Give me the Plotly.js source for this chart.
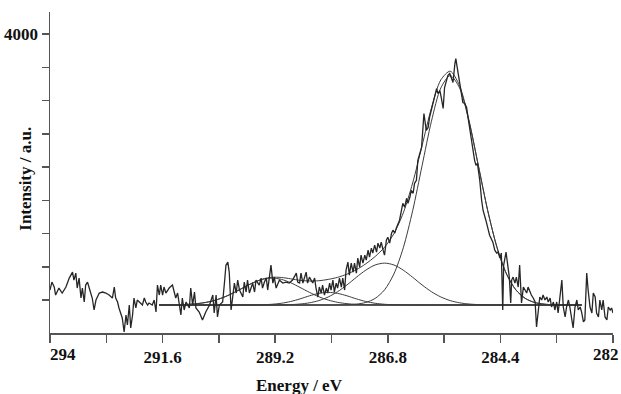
<!DOCTYPE html>
<html>
<head>
<meta charset="utf-8">
<script src="https://cdn.plot.ly/plotly-3.0.1.min.js"></script>
<style>
  html, body { margin: 0; padding: 0; background: #fff; }
  #chart { width: 621px; height: 394px; }
</style>
</head>
<body>
<div id="chart"></div>
<script>
// C 1s spectrum: measured counts
const DATA_E = [
  294.00, 293.96, 293.91, 293.88, 293.81, 293.74, 293.66, 293.59, 293.52, 293.49,
  293.45, 293.42, 293.38, 293.34, 293.31, 293.27, 293.24, 293.20, 293.17, 293.10,
  293.06, 293.02, 292.95, 292.88, 292.81, 292.74, 292.67, 292.63, 292.60, 292.56,
  292.53, 292.46, 292.42, 292.38, 292.35, 292.31, 292.28, 292.24, 292.21, 292.17,
  292.14, 292.10, 292.03, 291.99, 291.96, 291.92, 291.89, 291.82, 291.78, 291.74,
  291.71, 291.67, 291.64, 291.60, 291.57, 291.53, 291.46, 291.39, 291.32, 291.28,
  291.25, 291.21, 291.18, 291.14, 291.10, 291.03, 291.00, 290.96, 290.92, 290.89,
  290.82, 290.75, 290.68, 290.60, 290.53, 290.50, 290.46, 290.43, 290.39, 290.32,
  290.28, 290.25, 290.21, 290.18, 290.14, 290.11, 290.07, 290.03, 290.00, 289.96,
  289.89, 289.86, 289.82, 289.79, 289.75, 289.68, 289.64, 289.61, 289.54, 289.50,
  289.47, 289.43, 289.39, 289.36, 289.32, 289.29, 289.25, 289.22, 289.18, 289.11,
  289.04, 288.97, 288.90, 288.83, 288.75, 288.72, 288.68, 288.65, 288.61, 288.58,
  288.54, 288.51, 288.47, 288.40, 288.36, 288.33, 288.29, 288.26, 288.22, 288.19,
  288.15, 288.11, 288.08, 288.04, 288.01, 287.97, 287.94, 287.90, 287.87, 287.83,
  287.79, 287.76, 287.72, 287.69, 287.65, 287.62, 287.58, 287.54, 287.51, 287.47,
  287.44, 287.40, 287.37, 287.33, 287.29, 287.26, 287.22, 287.19, 287.15, 287.12,
  287.08, 287.04, 287.01, 286.97, 286.94, 286.90, 286.87, 286.83, 286.80, 286.76,
  286.72, 286.69, 286.65, 286.62, 286.55, 286.48, 286.44, 286.40, 286.37, 286.33,
  286.30, 286.26, 286.23, 286.19, 286.16, 286.08, 286.05, 286.03, 285.98, 285.94,
  285.91, 285.87, 285.84, 285.80, 285.76, 285.73, 285.69, 285.66, 285.62, 285.59,
  285.55, 285.52, 285.48, 285.44, 285.41, 285.37, 285.35, 285.32, 285.27, 285.23,
  285.20, 285.16, 285.12, 285.09, 285.05, 285.02, 284.98, 284.95, 284.92, 284.89,
  284.86, 284.84, 284.80, 284.77, 284.71, 284.66, 284.63, 284.56, 284.52, 284.48,
  284.45, 284.41, 284.38, 284.35, 284.33, 284.28, 284.26, 284.21, 284.18, 284.16,
  284.13, 284.09, 284.06, 284.02, 283.99, 283.95, 283.91, 283.88, 283.84, 283.81,
  283.77, 283.74, 283.70, 283.66, 283.63, 283.59, 283.56, 283.52, 283.49, 283.45,
  283.41, 283.38, 283.34, 283.31, 283.27, 283.24, 283.20, 283.17, 283.13, 283.09,
  283.06, 283.02, 282.99, 282.95, 282.92, 282.88, 282.85, 282.81, 282.77, 282.74,
  282.70, 282.67, 282.63, 282.60, 282.56, 282.53, 282.49, 282.45, 282.42, 282.38,
  282.35, 282.31, 282.28, 282.24, 282.21, 282.17, 282.13, 282.10, 282.06, 282.03,
  282.00
];
const DATA_I = [
  150, 270, 195, 75, 180, 105, 195, 330, 420, 300,
  405, 180, 330, 30, 180, -30, 225, 270, 195, 30,
  -150, 0, 105, 120, 105, 75, 30, 195, 30, -30,
  -120, -270, -480, -225, -375, -75, -420, -225, 30, -120,
  0, -30, -75, 30, -30, -75, -45, -75, 0, -180,
  225, 75, 225, 75, 195, 105, 180, 225, 30, 105,
  -45, -225, 30, -150, -30, -120, 180, -75, 120, -120,
  -180, -300, -180, -75, 75, -195, 75, -255, -75, -30,
  270, 525, 570, 420, -150, 45, 255, 105, 300, 150,
  45, 270, 120, 300, 105, 255, 120, 300, 225, 330,
  180, 270, 330, 150, 405, 525, 255, 345, 180, 300,
  255, 270, 255, 300, 405, 270, 255, 405, 255, 345,
  420, 255, 345, 255, 330, 180, 45, 195, 105, 225,
  75, 180, 105, 255, 150, 300, 120, 255, 180, 330,
  195, 330, 150, 450, 570, 375, 555, 420, 555, 405,
  630, 495, 675, 555, 675, 600, 750, 645, 780, 705,
  825, 720, 855, 780, 870, 750, 675, 900, 945, 855,
  1005, 1050, 1005, 1080, 1200, 1455, 1395, 1530, 1455, 1545,
  1650, 1605, 1755, 1800, 2100, 2295, 2550, 2805, 2550, 2595,
  2745, 2850, 2955, 3045, 3180, 3105, 3150, 3045, 2880, 3195,
  3300, 3375, 3405, 3330, 3270, 3555, 3630, 3495, 3255, 3105,
  2970, 2955, 2895, 2745, 2550, 2400, 2250, 2100, 2025, 2055,
  1905, 1800, 1500, 1350, 1200, 1080, 975, 870, 750, 705,
  720, 630, 705, -150, 525, 720, 600, 345, -45, 300,
  345, 255, 345, 195, 525, -45, 195, 150, 105, 195,
  120, 75, 30, -30, -405, -105, 45, 0, 75, 0,
  45, -30, 30, -105, -30, -150, -30, -195, 45, 300,
  -105, -255, -105, 0, -105, -300, -420, -105, 0, -150,
  -105, -180, -330, -300, 405, 150, -105, -195, 105, 45,
  -195, -255, 0, -150, 0, -255, -300, -105, -150, -120,
  -195
];

// Peak fit: energies of the fitted curves
const FIT_E = [
  291.67, 291.47, 291.27, 291.07, 290.87, 290.67, 290.47, 290.27, 290.07, 289.87,
  289.67, 289.47, 289.27, 289.07, 288.87, 288.67, 288.47, 288.27, 288.07, 287.87,
  287.67, 287.47, 287.27, 287.07, 286.87, 286.67, 286.47, 286.27, 286.07, 285.87,
  285.67, 285.47, 285.27, 285.07, 284.87, 284.67, 284.47, 284.27, 284.07, 283.87,
  283.67, 283.47, 283.27, 283.07, 282.87, 282.67
];
// C-C / C-H component (285.5 eV)
const PEAK_CC = [
  -75, -75, -75, -75, -75, -75, -75, -75, -75, -75,
  -75, -75, -75, -75, -75, -75, -75, -75, -75, -74,
  -71, -62, -37, 24, 152, 392, 785, 1343, 2018, 2688,
  3189, 3375, 3189, 2688, 2018, 1343, 785, 392, 152, 24,
  -37, -62, -71, -74, -75, -75
];
// C-O component (286.9 eV)
const PEAK_CO = [
  -75, -75, -75, -75, -75, -75, -75, -75, -75, -75,
  -75, -75, -74, -73, -69, -60, -42, -9, 46, 125,
  227, 342, 449, 527, 555, 527, 449, 342, 227, 125,
  46, -9, -42, -60, -69, -73, -74, -75, -75, -75,
  -75, -75, -75, -75, -75, -75
];
// C=O component (288.1 eV)
const PEAK_C_O = [
  -75, -75, -75, -75, -75, -75, -75, -75, -75, -75,
  -74, -71, -64, -49, -22, 17, 63, 100, 115, 100,
  63, 17, -22, -49, -64, -71, -74, -75, -75, -75,
  -75, -75, -75, -75, -75, -75, -75, -75, -75, -75,
  -75, -75, -75, -75, -75, -75
];
// O-C=O component (289.3 eV)
const PEAK_OCO = [
  -74, -73, -71, -66, -55, -35, -1, 49, 115, 189,
  260, 311, 330, 311, 260, 189, 115, 49, -1, -35,
  -55, -66, -71, -73, -75, -75, -75, -75, -75, -75,
  -75, -75, -75, -75, -75, -75, -75, -75, -75, -75,
  -75, -75, -75, -75, -75, -75
];
// background line under the fit
const BASE_E = [291.67, 282.67];
const BASE_I = [-75, -75];

// axis ticks
const X_TICKS = [294, 292.8, 291.6, 290.4, 289.2, 288.0, 286.8, 285.6, 284.4, 283.2, 282];
const X_LABELS = ['', '', '291.6', '', '289.2', '', '286.8', '', '284.4', '', ''];
const X_EDGE_LABELS = ['294', '282'];
const Y_TICKS = [0, 500, 1000, 1500, 2000, 2500, 3000, 3500, 4000];
const Y_LABELS = ['', '', '', '', '', '', '', '', '4000'];

// envelope = background + sum of component heights above it
const base = BASE_I[0];
const components = [PEAK_CC, PEAK_CO, PEAK_C_O, PEAK_OCO];
const ENVELOPE = FIT_E.map((_, i) =>
  components.reduce((s, c) => s + (c[i] - base), base));

const FONT = 'Liberation Serif, Times New Roman, serif';
const fitLine = { color: '#3c3c3c', width: 1, shape: 'spline', smoothing: 0.8 };

const traces = [
  { x: BASE_E, y: BASE_I, mode: 'lines', line: { color: '#333', width: 1.3 }, hoverinfo: 'skip' },
  ...components.map(c => ({ x: FIT_E, y: c, mode: 'lines', line: fitLine, hoverinfo: 'skip' })),
  { x: FIT_E, y: ENVELOPE, mode: 'lines', line: fitLine, hoverinfo: 'skip' },
  { x: DATA_E, y: DATA_I, mode: 'lines', line: { color: '#262626', width: 1.3 } }
];

const tickFont = { family: FONT, size: 17, color: '#111', weight: 'bold' };

const layout = {
  width: 621,
  height: 394,
  margin: { l: 50, r: 8, t: 12, b: 61 },
  paper_bgcolor: '#fff',
  plot_bgcolor: '#fff',
  showlegend: false,
  font: { family: FONT, color: '#111' },
  xaxis: {
    range: [294, 282],
    tickvals: X_TICKS,
    ticktext: X_LABELS,
    ticks: 'outside',
    ticklen: 8,
    tickwidth: 1.5,
    tickcolor: '#555',
    showline: true,
    linecolor: '#555',
    linewidth: 1.5,
    showgrid: false,
    zeroline: false,
    automargin: false,
    tickfont: tickFont
  },
  yaxis: {
    range: [-496, 4331],
    tickvals: Y_TICKS,
    ticktext: Y_LABELS,
    ticks: 'outside',
    ticklen: 7,
    tickwidth: 1.5,
    tickcolor: '#555',
    showline: true,
    linecolor: '#555',
    linewidth: 1.5,
    showgrid: false,
    zeroline: false,
    automargin: false,
    tickfont: tickFont
  },
  annotations: [
    { text: X_EDGE_LABELS[0], x: X_TICKS[0], xref: 'x', xanchor: 'left', xshift: -2,
      y: 0, yref: 'paper', yanchor: 'top', yshift: -10, showarrow: false, font: tickFont },
    { text: X_EDGE_LABELS[1], x: X_TICKS[X_TICKS.length - 1], xref: 'x', xanchor: 'right', xshift: 8,
      y: 0, yref: 'paper', yanchor: 'top', yshift: -10, showarrow: false, font: tickFont },
    { text: 'Energy / eV', x: 0.444, xref: 'paper', xanchor: 'center',
      y: -0.165, yref: 'paper', yanchor: 'middle', showarrow: false,
      font: { family: FONT, size: 17, color: '#111', weight: 'bold' } },
    { text: 'Intensity / a.u.', x: -0.043, xref: 'paper', xanchor: 'center',
      y: 0.48, yref: 'paper', yanchor: 'middle', textangle: -90, showarrow: false,
      font: { family: FONT, size: 17, color: '#111', weight: 'bold' } }
  ]
};

Plotly.newPlot('chart', traces, layout, { displayModeBar: false, staticPlot: true });
</script>
</body>
</html>
